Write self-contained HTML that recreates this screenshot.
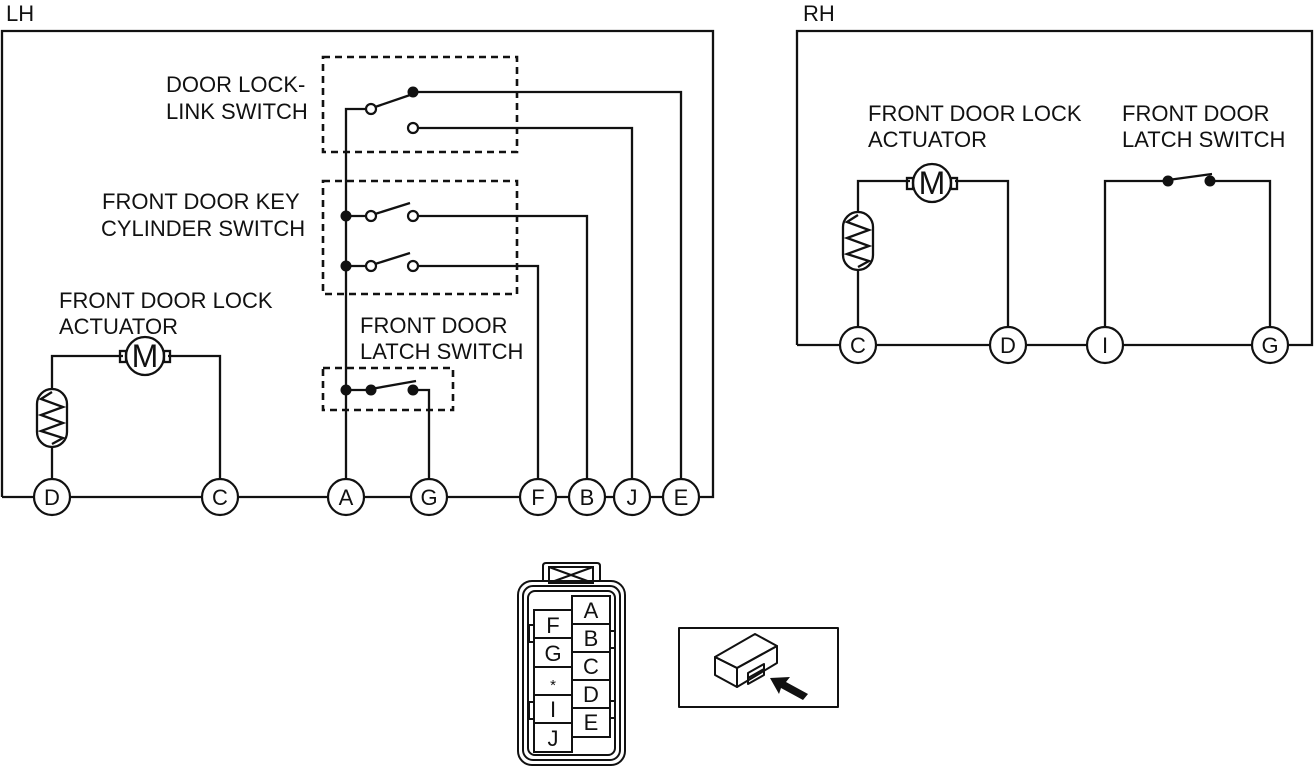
<!DOCTYPE html>
<html><head><meta charset="utf-8"><style>
html,body{margin:0;padding:0;background:#fff;}
svg{display:block;}
text{font-family:"Liberation Sans",Arial,sans-serif;fill:#111;}
</style></head><body>
<svg width="1315" height="767" viewBox="0 0 1315 767" xmlns="http://www.w3.org/2000/svg">
<g stroke="#111" stroke-width="2.3" fill="none">
<polyline points="2,497 2,31 713,31 713,497 2,497"/>
<polyline points="797,345 797,31 1312,31 1312,345 797,345"/>

<g stroke-dasharray="7,5" stroke-width="2.6">
<rect x="323" y="57" width="194" height="95"/>
<rect x="323" y="181" width="194" height="113"/>
<rect x="323" y="368" width="130" height="42"/>
</g>

<polyline points="371,109 346,109 346,497"/>
<line x1="375" y1="107" x2="413" y2="94"/>
<polyline points="413,92 681,92 681,497"/>
<polyline points="417,128 632,128 632,497"/>
<line x1="346" y1="216" x2="367" y2="216"/>
<line x1="375" y1="214" x2="410" y2="203"/>
<polyline points="417,216 587,216 587,497"/>
<line x1="346" y1="266" x2="367" y2="266"/>
<line x1="375" y1="264" x2="410" y2="253"/>
<polyline points="417,266 538,266 538,497"/>
<line x1="346" y1="390" x2="371" y2="390"/>
<line x1="371" y1="389" x2="416" y2="381"/>
<polyline points="413,390 429,390 429,497"/>

<polyline points="52,497 52,447"/>
<polyline points="52,390 52,356 123,356"/>
<polyline points="168,356 220,356 220,497"/>
<rect x="37" y="389" width="30" height="58" rx="15"/>
<polyline points="52,392 41,399 63,407 41,415 63,423 41,431 63,438 52,444"/>
<circle cx="145" cy="356" r="19"/>
<rect x="120" y="351" width="6" height="11"/>
<rect x="164" y="351" width="6" height="11"/>

<polyline points="858,345 858,270"/>
<polyline points="858,213 858,181 910,181"/>
<polyline points="955,181 1008,181 1008,345"/>
<rect x="843" y="212" width="30" height="58" rx="15"/>
<polyline points="858,215 847,222 869,230 847,238 869,246 847,254 869,261 858,267"/>
<circle cx="932" cy="183" r="19"/>
<rect x="907" y="178" width="6" height="11"/>
<rect x="951" y="178" width="6" height="11"/>
<polyline points="1105,345 1105,181 1168,181"/>
<line x1="1168" y1="180" x2="1212" y2="174"/>
<polyline points="1210,181 1270,181 1270,345"/>
</g>

<g fill="#111">
<circle cx="413" cy="92" r="5.5"/>
<circle cx="346" cy="216" r="5.5"/>
<circle cx="346" cy="266" r="5.5"/>
<circle cx="346" cy="390" r="5.5"/>
<circle cx="371" cy="390" r="5.5"/>
<circle cx="413" cy="390" r="5.5"/>
<circle cx="1168" cy="181" r="5.5"/>
<circle cx="1210" cy="181" r="5.5"/>
</g>
<g fill="#fff" stroke="#111" stroke-width="2.2">
<circle cx="371" cy="109" r="5"/>
<circle cx="413" cy="128" r="5"/>
<circle cx="371" cy="216" r="5"/>
<circle cx="413" cy="216" r="5"/>
<circle cx="371" cy="266" r="5"/>
<circle cx="413" cy="266" r="5"/>
</g>

<g fill="#fff" stroke="#111" stroke-width="2.2">
<circle cx="52" cy="497" r="18"/><circle cx="220" cy="497" r="18"/>
<circle cx="346" cy="497" r="18"/><circle cx="429" cy="497" r="18"/>
<circle cx="538" cy="497" r="18"/><circle cx="587" cy="497" r="18"/>
<circle cx="632" cy="497" r="18"/><circle cx="681" cy="497" r="18"/>
<circle cx="858" cy="345" r="18"/><circle cx="1008" cy="345" r="18"/>
<circle cx="1105" cy="345" r="18"/><circle cx="1270" cy="345" r="18"/>
</g>
<g font-size="22" text-anchor="middle">
<text x="52" y="505">D</text><text x="220" y="505">C</text>
<text x="346" y="505">A</text><text x="429" y="505">G</text>
<text x="538" y="505">F</text><text x="587" y="505">B</text>
<text x="632" y="505">J</text><text x="681" y="505">E</text>
<text x="858" y="353">C</text><text x="1008" y="353">D</text>
<text x="1105" y="353">I</text><text x="1270" y="353">G</text>
</g>
<g font-size="32" text-anchor="middle">
<text x="145" y="367">M</text><text x="932" y="194">M</text>
</g>

<g font-size="22">
<text x="6" y="21">LH</text>
<text x="803" y="21">RH</text>
<text x="166" y="92">DOOR LOCK-</text>
<text x="166" y="119">LINK SWITCH</text>
<text x="102" y="209">FRONT DOOR KEY</text>
<text x="101" y="236">CYLINDER SWITCH</text>
<text x="59" y="308">FRONT DOOR LOCK</text>
<text x="59" y="334">ACTUATOR</text>
<text x="360" y="333">FRONT DOOR</text>
<text x="360" y="359">LATCH SWITCH</text>
<text x="868" y="121">FRONT DOOR LOCK</text>
<text x="868" y="147">ACTUATOR</text>
<text x="1122" y="121">FRONT DOOR</text>
<text x="1122" y="147">LATCH SWITCH</text>
</g>

<g stroke="#111" stroke-width="2" fill="none">
<path d="M543,582 L543,566 Q543,563 546,563 L597,563 Q600,563 600,566 L600,582"/>
<rect x="549" y="567" width="44" height="16"/>
<line x1="549" y1="567" x2="593" y2="583"/><line x1="593" y1="567" x2="549" y2="583"/>
<rect x="518" y="581" width="107" height="184" rx="14"/>
<rect x="523" y="586" width="97" height="174" rx="10"/>
<rect x="528" y="591" width="87" height="164" rx="7"/>
<rect x="572" y="596" width="38" height="141"/>
<line x1="572" y1="624" x2="610" y2="624"/>
<line x1="572" y1="652" x2="610" y2="652"/>
<line x1="572" y1="680" x2="610" y2="680"/>
<line x1="572" y1="708" x2="610" y2="708"/>
<rect x="534" y="610" width="38" height="142"/>
<line x1="534" y1="638" x2="572" y2="638"/>
<line x1="534" y1="667" x2="572" y2="667"/>
<line x1="534" y1="695" x2="572" y2="695"/>
<line x1="534" y1="723" x2="572" y2="723"/>
<rect x="529" y="625" width="5" height="17"/>
<rect x="529" y="702" width="5" height="17"/>
<rect x="610" y="631" width="5" height="17"/>
<rect x="610" y="701" width="5" height="17"/>
</g>
<g font-size="22" text-anchor="middle">
<text x="591" y="618">A</text><text x="591" y="646">B</text>
<text x="591" y="674">C</text><text x="591" y="702">D</text>
<text x="591" y="730">E</text>
<text x="553" y="633">F</text><text x="553" y="661">G</text>
<text x="553" y="690" font-size="15">*</text><text x="553" y="717">I</text>
<text x="553" y="746">J</text>
</g>

<g stroke="#111" stroke-width="2" fill="none" stroke-linejoin="round">
<rect x="679" y="628" width="159" height="79"/>
<polygon points="715,657 755,634 777,646 737,668"/>
<polygon points="715,657 737,668 737,687 715,675"/>
<polygon points="737,668 777,646 777,663 737,687"/>
<polygon points="748,673 764,664 764,675 748,684"/>
<line x1="748" y1="678" x2="764" y2="669"/>
</g>
<polygon points="770,678 790,677 786,682 808,694 803,700 781,688 779,694" fill="#111"/>
</svg>
</body></html>
